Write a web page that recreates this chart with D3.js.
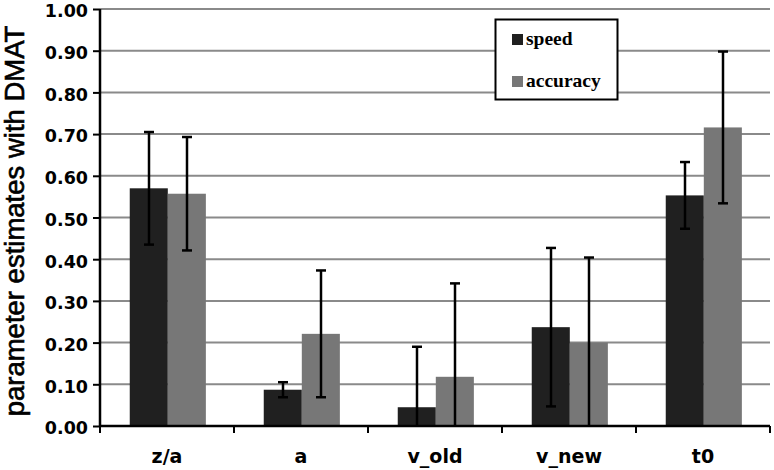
<!DOCTYPE html>
<html>
<head>
<meta charset="utf-8">
<script src="https://cdn.jsdelivr.net/npm/d3@7"></script>
<style>
  html, body { margin: 0; padding: 0; background: #fff; }
  svg { display: block; }
</style>
</head>
<body>
<svg id="chart" width="774" height="470"></svg>
<script>
const categories = ["z/a", "a", "v_old", "v_new", "t0"];
const seriesNames = ["speed", "accuracy"];
const speed = [0.570, 0.087, 0.045, 0.237, 0.553];
const speedErr = [0.135, 0.018, 0.145, 0.190, 0.080];
const accuracy = [0.557, 0.221, 0.118, 0.200, 0.716];
const accuracyErr = [0.136, 0.152, 0.224, 0.204, 0.182];
const yTicks = [0, 0.1, 0.2, 0.3, 0.4, 0.5, 0.6, 0.7, 0.8, 0.9, 1.0];
const yLabel = "parameter estimates with DMAT";

(function () {
const colors = { speed: "#202020", accuracy: "#777777" };
const values = { speed: speed, accuracy: accuracy };
const errs = { speed: speedErr, accuracy: accuracyErr };

const svg = d3.select("#chart");
const pLeft = 100, pRight = 770, pTop = 9, pBottom = 426;

const x0 = d3.scaleBand().domain(categories).range([pLeft, pRight]).paddingInner(0).paddingOuter(0);
const bw = x0.bandwidth();
const x1 = d3.scaleBand().domain(seriesNames).range([bw * 0.222, bw * 0.79]).paddingInner(0);
const y = d3.scaleLinear().domain([0, 1]).range([pBottom, pTop]);

// gridlines
svg.append("g").selectAll("line").data(yTicks.filter(d => d > 0)).join("line")
  .attr("x1", pLeft).attr("x2", pRight)
  .attr("y1", d => y(d)).attr("y2", d => y(d))
  .attr("stroke", "#8a8a8a").attr("stroke-width", 2);

// bars
const rows = [];
categories.forEach((c, i) => {
  seriesNames.forEach(s => rows.push({ cat: c, s: s, v: values[s][i], e: errs[s][i] }));
});

svg.append("g").selectAll("rect").data(rows).join("rect")
  .attr("x", d => x0(d.cat) + x1(d.s))
  .attr("width", x1.bandwidth())
  .attr("y", d => y(d.v))
  .attr("height", d => y(0) - y(d.v))
  .attr("fill", d => colors[d.s]);

// error bars
const eg = svg.append("g").attr("stroke", "#000").attr("stroke-width", 2.5);
const capW = 5;
rows.forEach(d => {
  const cx = Math.round(x0(d.cat) + x1(d.s) + x1.bandwidth() / 2);
  const hi = d.v + d.e, lo = d.v - d.e;
  const yHi = y(Math.min(hi, 1)), yLo = y(Math.max(lo, 0));
  eg.append("line").attr("x1", cx).attr("x2", cx).attr("y1", yHi).attr("y2", yLo);
  eg.append("line").attr("x1", cx - capW).attr("x2", cx + capW).attr("y1", yHi).attr("y2", yHi);
  if (lo >= 0) {
    eg.append("line").attr("x1", cx - capW).attr("x2", cx + capW).attr("y1", yLo).attr("y2", yLo);
  }
});

// y axis
const yAxis = d3.axisLeft(y).tickValues(yTicks).tickFormat(d3.format(".2f")).tickSize(7).tickPadding(5);
const gy = svg.append("g").attr("transform", `translate(${pLeft},0)`).call(yAxis);
gy.select(".domain").attr("stroke", "#000").attr("stroke-width", 2.5).attr("d", `M0,${pTop}V${pBottom}`);
gy.selectAll(".tick line").attr("stroke", "#000").attr("stroke-width", 2);
gy.selectAll(".tick text")
  .attr("font-family", "DejaVu Sans").attr("font-weight", "bold").attr("font-size", 17.5)
  .attr("fill", "#000").attr("dy", "0.45em");

// x axis
const xAxis = d3.axisBottom(x0).tickSize(0).tickPadding(24);
const gx = svg.append("g").attr("transform", `translate(0,${pBottom})`).call(xAxis);
gx.select(".domain").attr("stroke", "#000").attr("stroke-width", 2.5).attr("d", `M${pLeft},0H${pRight}`);
gx.selectAll(".tick text")
  .attr("font-family", "DejaVu Sans").attr("font-weight", "bold").attr("font-size", 19)
  .attr("fill", "#000");
// boundary ticks
const bounds = categories.map(c => x0(c)).concat([pRight]);
gx.append("g").selectAll("line").data(bounds).join("line")
  .attr("x1", d => d).attr("x2", d => d).attr("y1", 0).attr("y2", 7)
  .attr("stroke", "#000").attr("stroke-width", 2);

// y label
svg.append("text")
  .attr("transform", `translate(24,221) rotate(-90)`)
  .attr("text-anchor", "middle")
  .attr("font-family", "Liberation Sans").attr("font-size", 27.5)
  .attr("fill", "#000").attr("stroke", "#000").attr("stroke-width", 0.6)
  .text(yLabel);

// legend
const lg = svg.append("g");
lg.append("rect").attr("x", 495.5).attr("y", 19.5).attr("width", 122).attr("height", 80)
  .attr("fill", "#fff").attr("stroke", "#000").attr("stroke-width", 2);
const legY = d3.scalePoint().domain(seriesNames).range([45, 87]);
seriesNames.forEach(s => {
  lg.append("rect").attr("x", 512).attr("y", legY(s) - 11).attr("width", 11).attr("height", 11)
    .attr("fill", colors[s]);
  lg.append("text").attr("x", 526).attr("y", legY(s))
    .attr("font-family", "Liberation Serif").attr("font-weight", "bold").attr("font-size", 19.5)
    .attr("fill", "#000").text(s);
});
})();
</script>
</body>
</html>
